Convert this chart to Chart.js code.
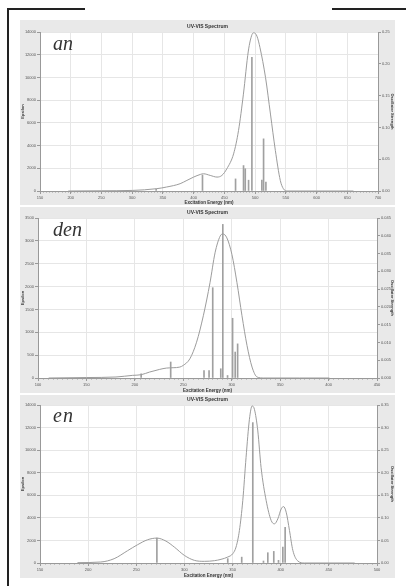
<!DOCTYPE html>
<html>
<head>
<meta charset="utf-8">
<script src="https://cdn.jsdelivr.net/npm/chart.js@4"></script>
<style>
    html, body { margin: 0; padding: 0; background: #fff; }
    body { width: 406px; height: 586px; position: relative; overflow: hidden; font-family: "Liberation Sans", sans-serif; }
    .rule { position: absolute; background: #222; }
    .panel { position: absolute; left: 20px; width: 375px; background: #e9e9e9; }
    .panel canvas { display: block; }
    .tag { position: absolute; left: 33px; font-family: "Liberation Serif", serif; font-style: italic; font-size: 20px; line-height: 20px; color: #333; }
</style>
</head>
<body>
<div class="rule" style="left:7px;top:8px;width:78px;height:2px"></div>
<div class="rule" style="left:332px;top:8px;width:74px;height:2px"></div>
<div class="rule" style="left:7px;top:8px;width:2px;height:578px"></div>

<div class="panel" style="top:20px;height:185px">
    <canvas id="chart-an" width="375" height="185"></canvas>
    <div class="tag" style="top:13px">an</div>
</div>
<div class="panel" style="top:207px;height:186px">
    <canvas id="chart-den" width="375" height="186"></canvas>
    <div class="tag" style="top:12px">den</div>
</div>
<div class="panel" style="top:395px;height:183px">
    <canvas id="chart-en" width="375" height="183"></canvas>
    <div class="tag" style="top:10px;letter-spacing:1px">en</div>
</div>

<script>
// 스펙트럼 곡선 (nm, epsilon)
const AN_X = [196, 250, 300, 340, 356, 378, 389, 400, 411, 416, 427, 438, 446, 454, 465, 473, 481, 489, 495, 498, 503, 508, 517, 525, 533, 541, 546, 552, 600, 660];
const AN_Y = [0, 20, 50, 204, 350, 642, 934, 1226, 1460, 1518, 1372, 1226, 1372, 1956, 3270, 5314, 8526, 12322, 13782, 13928, 13636, 12614, 9986, 6774, 3562, 934, 204, 0, 0, 0];
// 막대 (nm, oscillator strength)
const AN_STICK_X = [339, 414.4, 468.2, 481.2, 484, 489.4, 494.8, 511, 513.8, 517.6];
const AN_STICK_F = [0.003, 0.025, 0.019, 0.040, 0.035, 0.017, 0.210, 0.017, 0.082, 0.014];

const DEN_X = [111, 150, 180.5, 197.8, 206.5, 215.2, 225.6, 232.5, 239.5, 246.4, 249.9, 256.8, 263.7, 270.7, 277.6, 282.8, 288, 290.8, 295, 300.2, 305.4, 310.6, 315.8, 321, 326.2, 333.1, 370, 400.8];
const DEN_Y = [0, 10, 22, 58, 72, 130, 188, 217, 225, 239, 275, 420, 783, 1362, 2087, 2739, 3101, 3152, 3065, 2703, 2087, 1362, 710, 239, 22, 0, 0, 0];
const DEN_STICK_X = [206.5, 237, 271.4, 276.6, 280.4, 288.7, 290.8, 295.7, 300.9, 303.6, 306.1];
const DEN_STICK_F = [0.0012, 0.0045, 0.0021, 0.0021, 0.0254, 0.0026, 0.0432, 0.0007, 0.0168, 0.0073, 0.0096];

const EN_X = [188.9, 213.1, 227, 240.9, 251.3, 261.7, 271.4, 280.8, 289.5, 299.9, 310.3, 320.7, 331.1, 338, 345, 350.2, 353.6, 357.1, 360.6, 364, 367.5, 370.3, 372.7, 376.2, 379.6, 384.9, 390.1, 393.5, 397, 400.5, 402.9, 405.7, 409.1, 412.6, 417.8, 424.7, 476.8];
const EN_Y = [29, 88, 382, 1088, 1618, 2059, 2206, 1941, 1412, 676, 235, 147, 206, 324, 529, 824, 1412, 2882, 5529, 9352, 12735, 13911, 13617, 11705, 8470, 5529, 3765, 3470, 3911, 4794, 5000, 4500, 2882, 1118, 176, 0, 0];
const EN_STICK_X = [271.4, 345, 359.5, 371, 382.1, 386.6, 392.8, 397.7, 402.2, 404.6];
const EN_STICK_F = [0.055, 0.0096, 0.013, 0.311, 0.0044, 0.0228, 0.0257, 0.0059, 0.0353, 0.079];

// 축 범위 [min, max, step]
const AN_X_RANGE = [150, 700, 50];
const DEN_X_RANGE = [100, 450, 50];
const EN_X_RANGE = [150, 500, 50];
const AN_EPS_RANGE = [0, 14000, 2000];
const DEN_EPS_RANGE = [0, 3500, 500];
const EN_EPS_RANGE = [0, 14000, 2000];
const AN_F_RANGE = [0, 0.25, 0.05];
const DEN_F_RANGE = [0, 0.045, 0.005];
const EN_F_RANGE = [0, 0.35, 0.05];

const FONT = 'Liberation Sans';

/* -------------------- 플러그인 -------------------- */

const plotBg = {
    id: 'plotBg',
    beforeDraw(chart) {
        const a = chart.chartArea, ctx = chart.ctx;
        ctx.save();
        ctx.fillStyle = '#fff';
        ctx.fillRect(a.left, a.top, a.right - a.left, a.bottom - a.top);
        ctx.restore();
    }
};

const minorTicks = {
    id: 'minorTicks',
    afterDraw(chart, args, opts) {
        const x = chart.scales.x, ctx = chart.ctx;
        ctx.save();
        ctx.strokeStyle = '#9a9a9a';
        ctx.lineWidth = 1;
        ctx.beginPath();
        for (let v = x.min; v <= x.max + 1e-9; v += opts.step) {
            const px = Math.round(x.getPixelForValue(v)) + 0.5;
            ctx.moveTo(px, x.top);
            ctx.lineTo(px, x.top + 1.5);
        }
        ctx.stroke();
        ctx.restore();
    }
};

/* -------------------- 차트 -------------------- */

function makeChart(id, p) {
    const curve = p.cx.map((x, i) => ({ x, y: p.cy[i] }));
    const sticks = p.sx.map((x, i) => ({ x, y: p.sf[i] }));

    return new Chart(document.getElementById(id), {
        type: 'line',
        data: {
            datasets: [{
                type: 'bar',
                data: sticks,
                yAxisID: 'y2',
                backgroundColor: '#a0a0a0',
                barThickness: 1,
                order: 2
            }, {
                type: 'line',
                data: curve,
                yAxisID: 'y',
                borderColor: '#9c9c9c',
                borderWidth: 1,
                pointRadius: 0,
                tension: 0.4,
                cubicInterpolationMode: 'monotone',
                order: 1
            }]
        },
        options: {
            responsive: false,
            animation: false,
            devicePixelRatio: 1,
            layout: { padding: 0 },
            plugins: {
                legend: { display: false },
                tooltip: { enabled: false },
                title: {
                    display: true,
                    text: 'UV-VIS Spectrum',
                    color: '#333',
                    font: { family: FONT, size: 5, weight: 'bold' },
                    padding: { top: p.titleTop, bottom: 2 }
                },
                minorTicks: { step: p.xr[2] / 10 }
            },
            scales: {
                x: {
                    type: 'linear',
                    min: p.xr[0], max: p.xr[1],
                    offset: false,
                    afterFit: s => { s.height = p.xh; },
                    ticks: { stepSize: p.xr[2], autoSkip: false, maxRotation: 0, padding: 1, color: '#555', font: { family: FONT, size: 4 }, callback: v => String(v) },
                    grid: { color: '#e6e6e6', tickLength: 3, tickColor: '#999', offset: false },
                    border: { color: '#999' },
                    title: { display: true, text: 'Excitation Energy (nm)', color: '#333', padding: 0, font: { family: FONT, size: 4.5, weight: 'bold' } }
                },
                y: {
                    position: 'left',
                    min: p.er[0], max: p.er[1],
                    afterFit: s => { s.width = p.yl; },
                    ticks: { stepSize: p.er[2], padding: 1, color: '#555', font: { family: FONT, size: 4 }, callback: v => String(v) },
                    grid: { color: '#e6e6e6', tickLength: 3, tickColor: '#999' },
                    border: { color: '#999' },
                    title: { display: true, text: 'Epsilon', color: '#333', padding: 0, font: { family: FONT, size: 4, weight: 'bold' } }
                },
                y2: {
                    position: 'right',
                    min: p.fr[0], max: p.fr[1],
                    afterFit: s => { s.width = p.yr; },
                    ticks: { stepSize: p.fr[2], padding: 1, color: '#555', font: { family: FONT, size: 4 }, callback: v => v.toFixed(p.fd) },
                    grid: { drawOnChartArea: false, tickLength: 3, tickColor: '#999' },
                    border: { color: '#999' },
                    title: { display: true, text: 'Oscillator Strength', color: '#333', padding: 0, font: { family: FONT, size: 4, weight: 'bold' } }
                }
            }
        },
        plugins: [plotBg, minorTicks]
    });
}

makeChart('chart-an', { cx: AN_X, cy: AN_Y, sx: AN_STICK_X, sf: AN_STICK_F, xr: AN_X_RANGE, er: AN_EPS_RANGE, fr: AN_F_RANGE, fd: 2, titleTop: 4, xh: 14, yl: 20, yr: 17 });
makeChart('chart-den', { cx: DEN_X, cy: DEN_Y, sx: DEN_STICK_X, sf: DEN_STICK_F, xr: DEN_X_RANGE, er: DEN_EPS_RANGE, fr: DEN_F_RANGE, fd: 3, titleTop: 3, xh: 15, yl: 18, yr: 18 });
makeChart('chart-en', { cx: EN_X, cy: EN_Y, sx: EN_STICK_X, sf: EN_STICK_F, xr: EN_X_RANGE, er: EN_EPS_RANGE, fr: EN_F_RANGE, fd: 2, titleTop: 2, xh: 15, yl: 20, yr: 18 });
</script>
</body>
</html>
